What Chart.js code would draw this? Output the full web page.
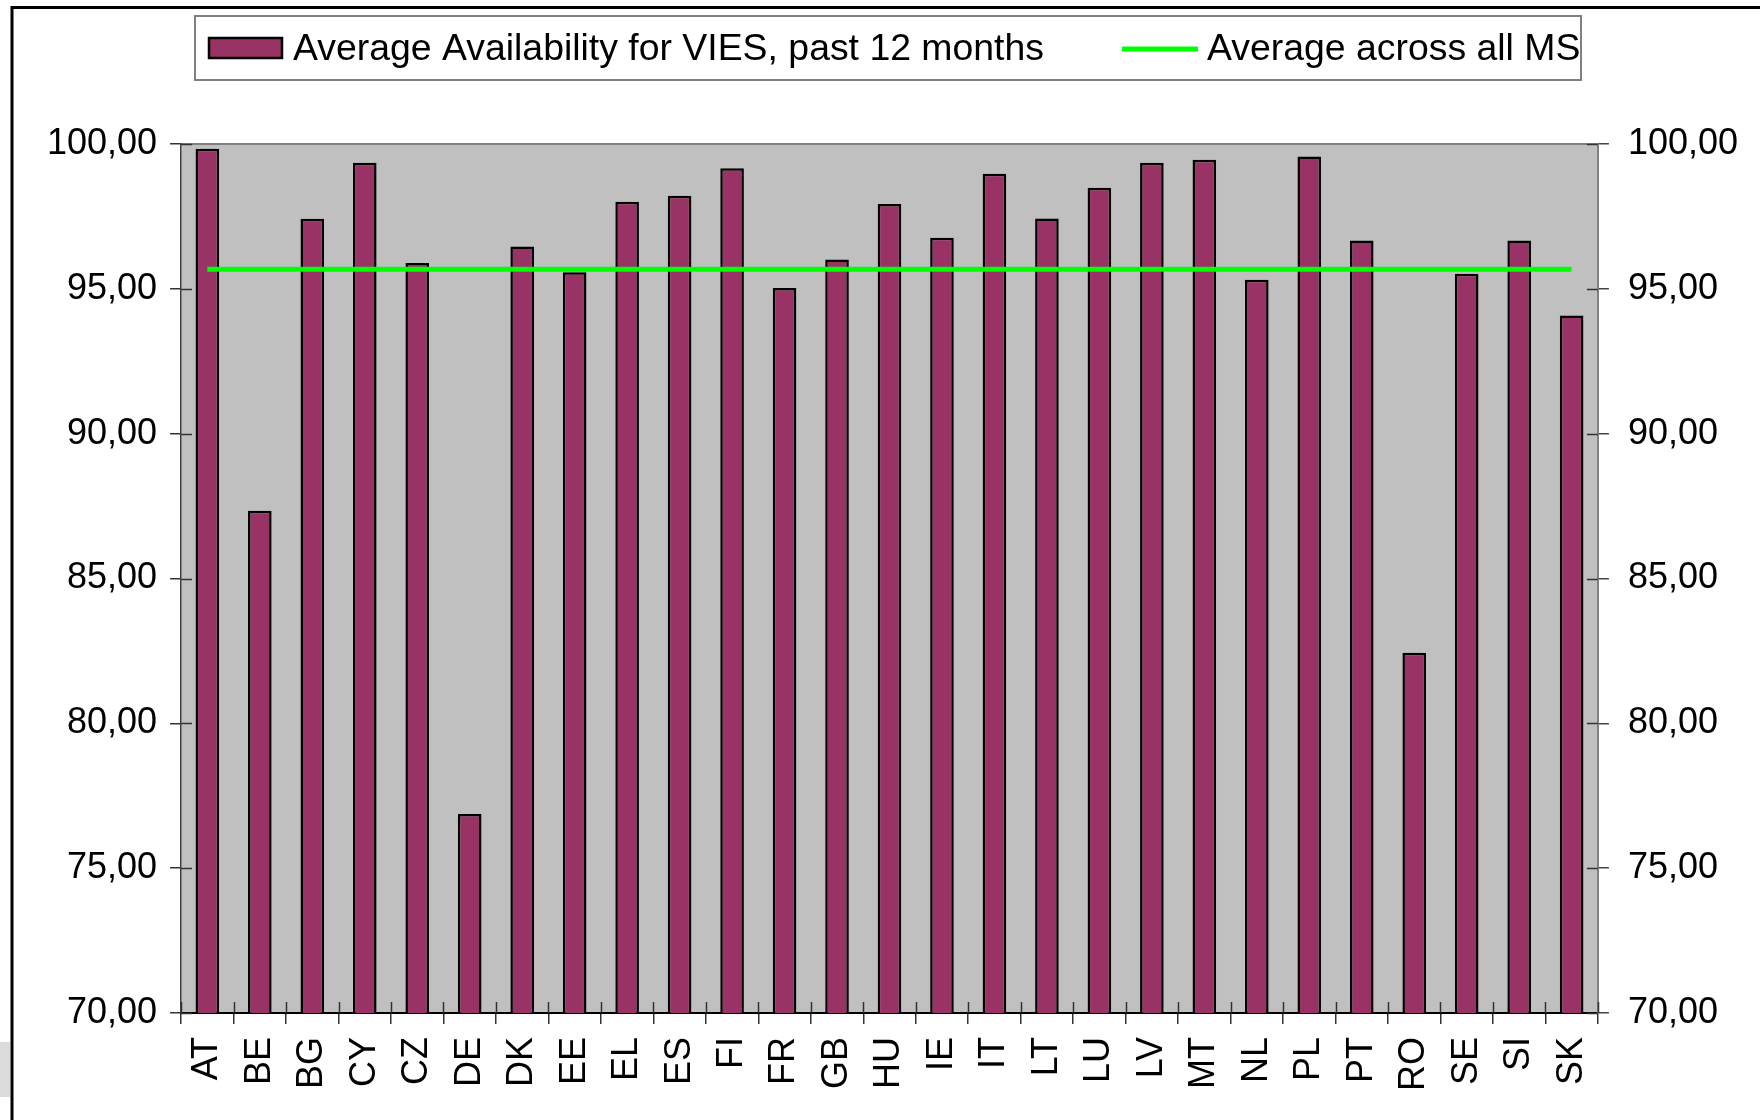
<!DOCTYPE html>
<html>
<head>
<meta charset="utf-8">
<script src="https://cdn.jsdelivr.net/npm/chart.js@4.4.1/dist/chart.umd.min.js"></script>
<style>
  html, body { margin: 0; padding: 0; background: #fff; }
  #wrap { position: relative; width: 1760px; height: 1120px; }
</style>
</head>
<body>
<div id="wrap"><canvas id="availabilityChart" width="1760" height="1120"></canvas></div>
<script>
const countries = ['AT', 'BE', 'BG', 'CY', 'CZ', 'DE', 'DK', 'EE', 'EL', 'ES', 'FI', 'FR', 'GB', 'HU',
  'IE', 'IT', 'LT', 'LU', 'LV', 'MT', 'NL', 'PL', 'PT', 'RO', 'SE', 'SI', 'SK'];
const availability = [99.84, 87.34, 97.42, 99.35, 95.89, 76.87, 96.46, 95.57, 98.01, 98.21, 99.16, 95.03, 96.01, 97.93,
  96.76, 98.97, 97.43, 98.49, 99.35, 99.46, 95.31, 99.57, 96.67, 82.44, 95.52, 96.67, 94.08];
const msAverage = [95.68, 95.68, 95.68, 95.68, 95.68, 95.68, 95.68, 95.68, 95.68, 95.68, 95.68, 95.68, 95.68, 95.68,
  95.68, 95.68, 95.68, 95.68, 95.68, 95.68, 95.68, 95.68, 95.68, 95.68, 95.68, 95.68, 95.68];
const yTickValues = [70, 75, 80, 85, 90, 95, 100];

const FONT = 'Arial, "Liberation Sans", sans-serif';
Chart.defaults.font.family = FONT;
Chart.defaults.color = '#000';

const fmt = v => v.toFixed(2).replace('.', ',');

// white page, outer frame, grey plot background
const backdrop = {
  id: 'backdrop',
  beforeDraw(chart) {
    const { ctx, chartArea: a } = chart;
    ctx.save();
    ctx.fillStyle = '#fff';
    ctx.fillRect(0, 0, chart.width, chart.height);
    ctx.fillStyle = '#dcdcdc';
    ctx.fillRect(0, 1042, 10, 55);
    ctx.strokeStyle = '#000';
    ctx.lineWidth = 3;
    ctx.beginPath();
    ctx.moveTo(12, chart.height);
    ctx.lineTo(12, 7.5);
    ctx.lineTo(chart.width, 7.5);
    ctx.stroke();
    ctx.fillStyle = '#c0c0c0';
    ctx.fillRect(a.left, a.top, a.right - a.left, a.bottom - a.top);
    ctx.strokeStyle = '#808080';
    ctx.lineWidth = 2;
    ctx.beginPath();
    ctx.moveTo(a.left, a.top);
    ctx.lineTo(a.right, a.top);
    ctx.stroke();
    ctx.restore();
  },
  afterDraw(chart) {
    // short inner halves of the tick marks
    const { ctx, chartArea: a, scales } = chart;
    ctx.save();
    ctx.lineWidth = 1.5;
    ctx.strokeStyle = '#333';
    ctx.beginPath();
    const step = (a.right - a.left) / countries.length;
    for (let i = 0; i <= countries.length; i++) {
      const x = Math.round(a.left + i * step) + 0.5;
      ctx.moveTo(x, a.bottom);
      ctx.lineTo(x, a.bottom - 11);
    }
    yTickValues.forEach(v => {
      const y = Math.round(scales.y.getPixelForValue(v)) + 0.5;
      ctx.moveTo(a.left, y);
      ctx.lineTo(a.left + 11, y);
      ctx.moveTo(a.right, y);
      ctx.lineTo(a.right - 11, y);
    });
    ctx.stroke();
    ctx.restore();
  }
};

// boxed legend across the top
const legendBox = {
  id: 'legendBox',
  afterDraw(chart) {
    const ctx = chart.ctx;
    const [bars, avg] = chart.data.datasets;
    ctx.save();
    ctx.fillStyle = '#fff';
    ctx.fillRect(195, 16, 1386, 64);
    ctx.strokeStyle = '#808080';
    ctx.lineWidth = 2;
    ctx.strokeRect(195, 16, 1386, 64);

    ctx.fillStyle = bars.backgroundColor;
    ctx.fillRect(209, 38, 73, 20);
    ctx.strokeStyle = '#000';
    ctx.lineWidth = 2.5;
    ctx.strokeRect(209, 38, 73, 20);

    ctx.font = '37.4px ' + FONT;
    ctx.fillStyle = '#000';
    ctx.textBaseline = 'alphabetic';
    ctx.fillText(bars.label, 293, 60);

    ctx.strokeStyle = avg.borderColor;
    ctx.lineWidth = 5;
    ctx.beginPath();
    ctx.moveTo(1122, 49);
    ctx.lineTo(1198, 49);
    ctx.stroke();
    ctx.fillText(avg.label, 1207, 60);
    ctx.restore();
  }
};

const ctx = document.getElementById('availabilityChart').getContext('2d');

const availabilityChart = new Chart(ctx, {
  type: 'bar',
  data: {
    labels: countries,
    datasets: [{
      label: 'Average Availability for VIES, past 12 months',
      data: availability,
      backgroundColor: '#993366',
      borderColor: '#000',
      borderWidth: 2.5,
      barPercentage: 0.45,
      categoryPercentage: 1,
      order: 1
    }, {
      type: 'line',
      label: 'Average across all MS',
      data: msAverage,
      borderColor: '#00ff00',
      borderWidth: 5,
      pointRadius: 0,
      fill: false,
      order: 0
    }]
  },
  options: {
    responsive: false,
    animation: false,
    devicePixelRatio: 1,
    layout: { padding: { left: 34, right: 3, top: 144, bottom: 16 } },
    plugins: {
      legend: { display: false },
      tooltip: { enabled: false }
    },
    scales: {
      x: {
        grid: { drawOnChartArea: false, tickLength: 11, color: '#333', lineWidth: 1.5 },
        border: { color: '#000', width: 2 },
        ticks: {
          autoSkip: false, minRotation: 90, maxRotation: 90, padding: 13,
          font: { size: 36 }, color: '#000'
        }
      },
      y: {
        position: 'left',
        min: 70, max: 100,
        afterBuildTicks: s => { s.ticks = yTickValues.map(v => ({ value: v })); },
        grid: { drawOnChartArea: false, tickLength: 11, color: '#333', lineWidth: 1.5 },
        border: { color: '#404040', width: 1.5 },
        ticks: { padding: 13, font: { size: 36 }, color: '#000', callback: v => fmt(v) }
      },
      y2: {
        position: 'right',
        display: true,
        min: 70, max: 100,
        afterBuildTicks: s => { s.ticks = yTickValues.map(v => ({ value: v })); },
        grid: { drawOnChartArea: false, tickLength: 11, color: '#444', lineWidth: 1.5 },
        border: { color: '#808080', width: 2 },
        ticks: { padding: 19, font: { size: 36 }, color: '#000', callback: v => fmt(v) }
      }
    }
  },
  plugins: [backdrop, legendBox]
});
</script>
</body>
</html>
